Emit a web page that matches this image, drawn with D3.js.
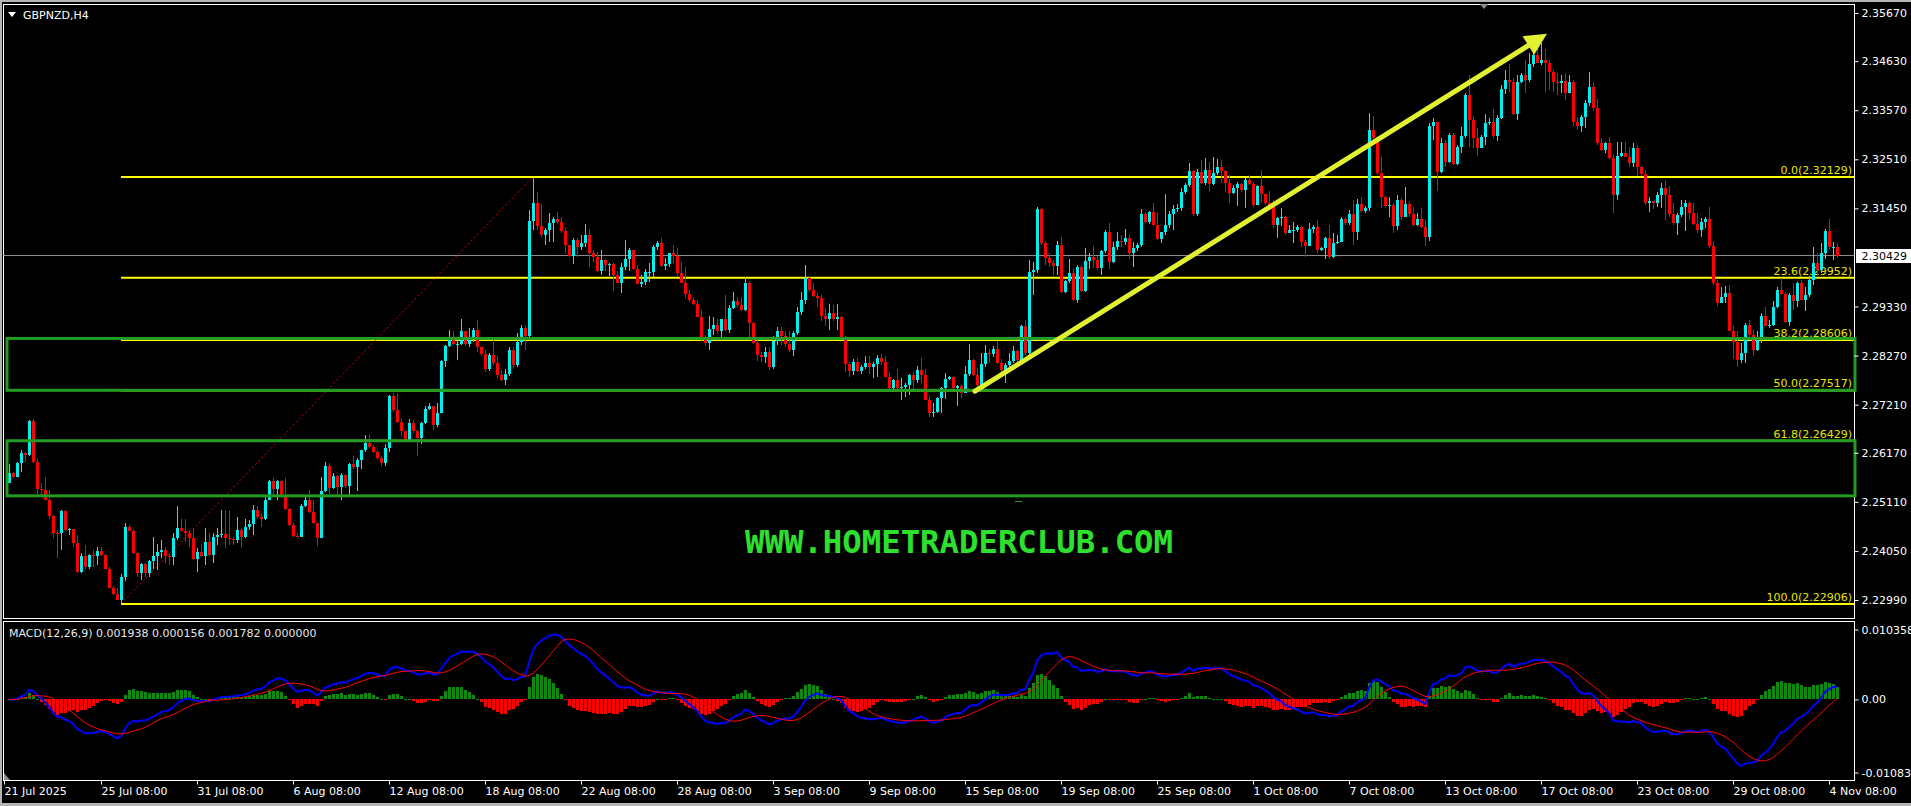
<!DOCTYPE html>
<html>
<head>
<meta charset="utf-8">
<script src="https://cdn.jsdelivr.net/npm/d3@7"></script>
<style>
  html, body { margin: 0; padding: 0; background: #b4b4b4; overflow: hidden; }
  svg { display: block; }
  text { font-family: "DejaVu Sans", sans-serif; font-size: 11px; }
</style>
</head>
<body>
<svg id="chart" width="1911" height="806"></svg>
<script>
// ---- data: GBPNZD H4, one entry per bar (21 Jul 2025 12:00 -> 4 Nov 2025 16:00)
const firstOpen = 2.2552;

const closes = [
2.2573,2.2565,2.2594,2.2616,2.2612,2.2686,2.2598,2.2538,2.2537,2.2516,
2.2480,2.2444,2.2443,2.2492,2.2450,2.2452,2.2423,2.2360,2.2394,2.2370,
2.2396,2.2393,2.2405,2.2396,2.2367,2.2326,2.2312,2.2300,2.2349,2.2457,
2.2449,2.2400,2.2358,2.2377,2.2358,2.2383,2.2393,2.2403,2.2407,2.2394,
2.2391,2.2432,2.2454,2.2449,2.2443,2.2432,2.2387,2.2403,2.2394,2.2425,
2.2396,2.2436,2.2439,2.2442,2.2432,2.2430,2.2429,2.2450,2.2436,2.2456,
2.2463,2.2493,2.2479,2.2473,2.2516,2.2556,2.2538,2.2555,2.2526,2.2495,
2.2461,2.2437,2.2436,2.2502,2.2516,2.2490,2.2465,2.2434,2.2535,2.2588,
2.2540,2.2567,2.2544,2.2569,2.2545,2.2593,2.2587,2.2601,2.2622,2.2639,
2.2629,2.2619,2.2605,2.2594,2.2627,2.2740,2.2709,2.2684,2.2663,2.2645,
2.2681,2.2663,2.2650,2.2681,2.2712,2.2717,2.2677,2.2704,2.2816,2.2848,
2.2864,2.2852,2.2852,2.2879,2.2852,2.2868,2.2882,2.2845,2.2830,2.2797,
2.2828,2.2810,2.2785,2.2774,2.2787,2.2840,2.2807,2.2857,2.2886,2.2869,
2.3118,2.3157,2.3107,2.3087,2.3098,2.3113,2.3121,2.3116,2.3097,2.3066,
2.3042,2.3077,2.3061,2.3071,2.3087,2.3049,2.3039,2.3010,2.3033,2.3023,
2.3024,2.3001,2.2984,2.3019,2.3035,2.3054,2.3015,2.2982,2.2987,2.3008,
2.3008,2.3062,2.3071,2.3020,2.3024,2.3048,2.3042,2.3006,2.2984,2.2961,
2.2946,2.2938,2.2911,2.2864,2.2855,2.2884,2.2893,2.2879,2.2905,2.2882,
2.2930,2.2945,2.2936,2.2925,2.2984,2.2897,2.2855,2.2828,2.2823,2.2835,
2.2803,2.2859,2.2879,2.2869,2.2852,2.2840,2.2875,2.2922,2.2948,2.2995,
2.2969,2.2956,2.2951,2.2912,2.2905,2.2920,2.2905,2.2911,2.2868,2.2809,
2.2794,2.2814,2.2794,2.2803,2.2810,2.2802,2.2809,2.2821,2.2814,2.2781,
2.2756,2.2774,2.2756,2.2760,2.2763,2.2785,2.2774,2.2796,2.2785,2.2731,
2.2702,2.2706,2.2735,2.2756,2.2776,2.2780,2.2756,2.2761,2.2747,2.2787,
2.2818,2.2785,2.2764,2.2809,2.2832,2.2831,2.2841,2.2812,2.2795,2.2807,
2.2816,2.2836,2.2818,2.2891,2.2832,2.3008,2.3011,2.3143,2.3070,2.3037,
2.3028,2.3021,2.3066,2.2965,2.2988,2.3006,2.2947,2.3019,2.2967,2.3032,
2.3041,2.3034,2.3016,2.3052,2.3095,2.3030,2.3062,2.3075,2.3073,2.3080,
2.3048,2.3060,2.3066,2.3133,2.3116,2.3138,2.3109,2.3078,2.3093,2.3109,
2.3133,2.3143,2.3145,2.3181,2.3196,2.3226,2.3132,2.3224,2.3199,2.3228,
2.3198,2.3221,2.3235,2.3226,2.3199,2.3179,2.3188,2.3198,2.3185,2.3206,
2.3198,2.3152,2.3193,2.3176,2.3156,2.3147,2.3109,2.3124,2.3126,2.3091,
2.3098,2.3098,2.3104,2.3073,2.3064,2.3100,2.3104,2.3055,2.3060,2.3080,
2.3039,2.3071,2.3073,2.3121,2.3113,2.3133,2.3095,2.3155,2.3140,2.3145,
2.3314,2.3296,2.3221,2.3169,2.3150,2.3152,2.3106,2.3163,2.3127,2.3155,
2.3133,2.3109,2.3121,2.3104,2.3083,2.3322,2.3332,2.3224,2.3287,2.3246,
2.3304,2.3241,2.3278,2.3301,2.3390,2.3336,2.3296,2.3275,2.3300,2.3330,
2.3332,2.3301,2.3341,2.3402,2.3422,2.3419,2.3349,2.3419,2.3433,2.3422,
2.3457,2.3476,2.3460,2.3466,2.3458,2.3440,2.3419,2.3415,2.3421,2.3395,
2.3419,2.3332,2.3322,2.3343,2.3372,2.3408,2.3361,2.3286,2.3270,2.3286,
2.3253,2.3174,2.3258,2.3264,2.3257,2.3242,2.3275,2.3235,2.3219,2.3156,
2.3160,2.3156,2.3174,2.3188,2.3174,2.3133,2.3113,2.3131,2.3147,2.3156,
2.3134,2.3111,2.3098,2.3116,2.3121,2.3064,2.2983,2.2940,2.2954,2.2963,
2.2881,2.2857,2.2818,2.2833,2.2893,2.2872,2.2839,2.2861,2.2913,2.2891,
2.2893,2.2933,2.2969,2.2960,2.2900,2.2958,2.2944,2.2983,2.2947,2.2958,
2.2990,2.3026,2.3011,2.3048,2.3097,2.3062,2.3062,2.3043
];

const highs = [
2.2593,2.2576,2.2598,2.2623,2.2619,2.2688,2.2689,2.2603,2.2551,2.2564,
2.2537,2.2483,2.2450,2.2493,2.2493,2.2454,2.2452,2.2439,2.2400,2.2418,
2.2398,2.2407,2.2414,2.2414,2.2398,2.2371,2.2329,2.2326,2.2355,2.2465,
2.2461,2.2452,2.2403,2.2380,2.2378,2.2385,2.2436,2.2421,2.2429,2.2414,
2.2398,2.2443,2.2501,2.2475,2.2475,2.2450,2.2454,2.2411,2.2421,2.2454,
2.2443,2.2443,2.2454,2.2493,2.2493,2.2492,2.2436,2.2478,2.2454,2.2475,
2.2472,2.2504,2.2501,2.2486,2.2526,2.2558,2.2562,2.2558,2.2558,2.2562,
2.2497,2.2465,2.2443,2.2506,2.2522,2.2537,2.2515,2.2466,2.2565,2.2598,
2.2594,2.2573,2.2569,2.2573,2.2571,2.2594,2.2609,2.2605,2.2623,2.2655,
2.2655,2.2634,2.2623,2.2609,2.2637,2.2742,2.2747,2.2747,2.2689,2.2663,
2.2691,2.2688,2.2666,2.2684,2.2717,2.2724,2.2715,2.2724,2.2817,2.2850,
2.2882,2.2879,2.2861,2.2907,2.2879,2.2886,2.2886,2.2904,2.2846,2.2840,
2.2832,2.2861,2.2825,2.2796,2.2797,2.2846,2.2846,2.2875,2.2893,2.2893,
2.3141,2.32129,2.3181,2.3154,2.3102,2.3134,2.3127,2.3138,2.3127,2.3102,
2.3066,2.3080,2.3082,2.3087,2.3111,2.3100,2.3056,2.3051,2.3056,2.3035,
2.3028,2.3028,2.3010,2.3026,2.3077,2.3059,2.3055,2.3023,2.3001,2.3015,
2.3026,2.3066,2.3075,2.3082,2.3037,2.3049,2.3066,2.3059,2.3030,2.3019,
2.2969,2.2954,2.2947,2.2925,2.2871,2.2912,2.2910,2.2907,2.2907,2.2958,
2.2936,2.2965,2.2954,2.2954,2.2996,2.2989,2.2900,2.2868,2.2835,2.2846,
2.2846,2.2869,2.2889,2.2889,2.2879,2.2879,2.2879,2.2931,2.2965,2.3023,
2.2999,2.2983,2.2963,2.2958,2.2929,2.2938,2.2936,2.2938,2.2912,2.2869,
2.2814,2.2819,2.2821,2.2807,2.2826,2.2826,2.2814,2.2828,2.2830,2.2826,
2.2792,2.2776,2.2797,2.2778,2.2767,2.2787,2.2792,2.2804,2.2821,2.2797,
2.2740,2.2725,2.2738,2.2760,2.2789,2.2782,2.2782,2.2764,2.2764,2.2805,
2.2851,2.2819,2.2800,2.2832,2.2850,2.2841,2.2848,2.2859,2.2819,2.2812,
2.2832,2.2848,2.2839,2.2893,2.2904,2.3034,2.3030,2.3147,2.3145,2.3075,
2.3049,2.3034,2.3075,2.3083,2.2990,2.3035,2.3013,2.3023,2.3023,2.3059,
2.3048,2.3064,2.3042,2.3054,2.3098,2.3113,2.3073,2.3093,2.3088,2.3100,
2.3088,2.3073,2.3070,2.3143,2.3138,2.3140,2.3156,2.3136,2.3095,2.3176,
2.3140,2.3152,2.3155,2.3188,2.3199,2.3242,2.3228,2.3229,2.3250,2.3253,
2.3246,2.3255,2.3251,2.3250,2.3228,2.3217,2.3196,2.3203,2.3199,2.3210,
2.3217,2.3203,2.3196,2.3227,2.3174,2.3183,2.3163,2.3126,2.3145,2.3129,
2.3109,2.3116,2.3109,2.3106,2.3077,2.3113,2.3109,2.3120,2.3062,2.3084,
2.3109,2.3091,2.3088,2.3127,2.3126,2.3142,2.3163,2.3165,2.3169,2.3150,
2.3350,2.3345,2.3300,2.3257,2.3172,2.3170,2.3156,2.3174,2.3167,2.3192,
2.3160,2.3149,2.3134,2.3145,2.3120,2.3329,2.3340,2.3329,2.3296,2.3293,
2.3307,2.3307,2.3282,2.3320,2.3394,2.3433,2.3345,2.3318,2.3304,2.3349,
2.3340,2.3359,2.3347,2.3412,2.3444,2.3457,2.3426,2.3433,2.3437,2.3466,
2.3480,2.3487,2.3498,2.3503,2.3489,2.3466,2.3444,2.3437,2.3433,2.3437,
2.3433,2.3422,2.3343,2.3347,2.3379,2.3440,2.3419,2.3381,2.3296,2.3289,
2.3299,2.3260,2.3289,2.3289,2.3289,2.3278,2.3287,2.3282,2.3237,2.3228,
2.3170,2.3160,2.3181,2.3199,2.3206,2.3193,2.3156,2.3134,2.3163,2.3163,
2.3160,2.3157,2.3134,2.3124,2.3127,2.3149,2.3075,2.2990,2.2976,2.2977,
2.2980,2.2890,2.2879,2.2854,2.2897,2.2904,2.2882,2.2879,2.2918,2.2933,
2.2904,2.2944,2.2976,2.2994,2.2965,2.2963,2.2983,2.2987,2.2990,2.2976,
2.2998,2.3062,2.3048,2.3070,2.3100,2.3121,2.3073,2.3071
];

const lows = [
2.2551,2.2562,2.2564,2.2576,2.2598,2.2610,2.2594,2.2526,2.2526,2.2515,
2.2475,2.2432,2.2389,2.2407,2.2447,2.2439,2.2414,2.2358,2.2358,2.2367,
2.2367,2.2371,2.2375,2.2393,2.2365,2.2324,2.2310,2.2299,2.22906,2.2341,
2.2447,2.2398,2.2349,2.2342,2.2349,2.2349,2.2367,2.2364,2.2389,2.2378,
2.2375,2.2375,2.2429,2.2447,2.2425,2.2414,2.2385,2.2360,2.2391,2.2375,
2.2394,2.2378,2.2418,2.2432,2.2411,2.2418,2.2418,2.2423,2.2411,2.2434,
2.2450,2.2439,2.2475,2.2457,2.2472,2.2515,2.2529,2.2515,2.2522,2.2493,
2.2459,2.2436,2.2432,2.2437,2.2499,2.2486,2.2463,2.2416,2.2432,2.2533,
2.2529,2.2538,2.2526,2.2515,2.2542,2.2526,2.2583,2.2535,2.2581,2.2619,
2.2627,2.2616,2.2601,2.2588,2.2588,2.2619,2.2706,2.2682,2.2653,2.2643,
2.2645,2.2660,2.2609,2.2637,2.2679,2.2709,2.2666,2.2673,2.2702,2.2803,
2.2845,2.2850,2.2817,2.2850,2.2848,2.2846,2.2857,2.2835,2.2826,2.2792,
2.2794,2.2807,2.2778,2.2773,2.2763,2.2783,2.2799,2.2803,2.2850,2.2839,
2.2868,2.3098,2.3098,2.3082,2.3066,2.3073,2.3073,2.3111,2.3092,2.3046,
2.3039,2.3025,2.3039,2.3056,2.3062,2.3019,2.3030,2.3008,2.3001,2.3010,
2.2999,2.2967,2.2983,2.2963,2.3012,2.3010,2.3012,2.2981,2.2976,2.2979,
2.2987,2.2997,2.3055,2.3018,2.3012,2.3019,2.3026,2.2999,2.2983,2.2951,
2.2943,2.2936,2.2910,2.2857,2.2848,2.2838,2.2871,2.2874,2.2866,2.2879,
2.2875,2.2927,2.2933,2.2924,2.2924,2.2868,2.2852,2.2816,2.2814,2.2810,
2.2796,2.2799,2.2850,2.2850,2.2846,2.2835,2.2826,2.2871,2.2915,2.2938,
2.2965,2.2954,2.2933,2.2902,2.2891,2.2882,2.2902,2.2882,2.2866,2.2792,
2.2781,2.2785,2.2792,2.2787,2.2799,2.2787,2.2778,2.2780,2.2807,2.2780,
2.2754,2.2749,2.2754,2.2730,2.2738,2.2742,2.2754,2.2767,2.2767,2.2730,
2.2694,2.2695,2.2702,2.2702,2.2733,2.2774,2.2754,2.2717,2.2735,2.2746,
2.2783,2.2782,2.2760,2.2761,2.2803,2.2810,2.2823,2.2809,2.2782,2.2767,
2.2800,2.2810,2.2814,2.2816,2.2828,2.2828,2.2958,2.3005,2.3066,2.3023,
2.3019,2.3001,2.3001,2.2962,2.2963,2.2983,2.2944,2.2941,2.2965,2.2965,
2.3013,2.3016,2.3012,2.3001,2.3048,2.3013,2.3026,2.3054,2.3062,2.3066,
2.3035,2.3019,2.3052,2.3062,2.3114,2.3111,2.3107,2.3077,2.3071,2.3088,
2.3102,2.3098,2.3138,2.3140,2.3176,2.3192,2.3129,2.3129,2.3198,2.3196,
2.3181,2.3196,2.3217,2.3199,2.3181,2.3157,2.3176,2.3150,2.3181,2.3145,
2.3196,2.3147,2.3152,2.3156,2.3152,2.3145,2.3102,2.3080,2.3106,2.3088,
2.3091,2.3070,2.3093,2.3062,2.3039,2.3064,2.3091,2.3049,2.3052,2.3035,
2.3035,2.3037,2.3068,2.3084,2.3109,2.3109,2.3066,2.3077,2.3138,2.3134,
2.3140,2.3293,2.3217,2.3145,2.3145,2.3127,2.3091,2.3098,2.3120,2.3127,
2.3127,2.3107,2.3106,2.3102,2.3064,2.3075,2.3293,2.3183,2.3221,2.3235,
2.3242,2.3239,2.3239,2.3264,2.3296,2.3278,2.3275,2.3258,2.3278,2.3282,
2.3325,2.3296,2.3291,2.3337,2.3392,2.3397,2.3347,2.3336,2.3415,2.3395,
2.3419,2.3451,2.3458,2.3455,2.3397,2.3401,2.3397,2.3390,2.3394,2.3378,
2.3394,2.3322,2.3314,2.3309,2.3318,2.3366,2.3356,2.3282,2.3268,2.3264,
2.3251,2.3136,2.3163,2.3255,2.3255,2.3235,2.3235,2.3215,2.3215,2.3152,
2.3138,2.3143,2.3149,2.3145,2.3120,2.3127,2.3109,2.3088,2.3127,2.3097,
2.3120,2.3109,2.3091,2.3084,2.3102,2.3059,2.2980,2.2934,2.2940,2.2940,
2.2879,2.2819,2.2802,2.2812,2.2810,2.2861,2.2826,2.2836,2.2854,2.2890,
2.2886,2.2890,2.2929,2.2958,2.2898,2.2891,2.2926,2.2931,2.2946,2.2924,
2.2953,2.2980,2.2998,2.3005,2.3035,2.3055,2.3034,2.3037
];

// axis labels
const priceTicks = [2.35670, 2.34630, 2.33570, 2.32510, 2.31450, 2.29330, 2.28270, 2.27210, 2.26170, 2.25110, 2.24050, 2.22990];
const bidPrice = 2.30429;
const dateLabels = ["21 Jul 2025", "25 Jul 08:00", "31 Jul 08:00", "6 Aug 08:00", "12 Aug 08:00", "18 Aug 08:00",
  "22 Aug 08:00", "28 Aug 08:00", "3 Sep 08:00", "9 Sep 08:00", "15 Sep 08:00", "19 Sep 08:00", "25 Sep 08:00",
  "1 Oct 08:00", "7 Oct 08:00", "13 Oct 08:00", "17 Oct 08:00", "23 Oct 08:00", "29 Oct 08:00", "4 Nov 08:00"];
const dateBars = [-1.25, 23, 47, 71, 95, 119, 143, 167, 191, 215, 239, 263, 287, 311, 335, 359, 383, 407, 431, 455];
const macdTicks = [0.010358, 0, -0.010836];
const macdTickLabels = ["0.010358", "0.00", "-0.010836"];
const macdTitle = "MACD(12,26,9) 0.001938 0.000156 0.001782 0.000000";

// fibonacci retracement
const fibLevels = ["0.0", "23.6", "38.2", "50.0", "61.8", "100.0"];
const fibPrices = [2.32129, 2.29952, 2.28606, 2.27517, 2.26429, 2.22906];
const fibFromBar = 28, fibToBar = 131;

// support zones (bar index range, price range)
const zoneBars = [[-0.5, 461.5], [-0.5, 461.5]];
const zonePrices = [[2.2752, 2.2864], [2.2524, 2.2643]];

// trend arrow
const arrowBars = [241.5, 384.5];
const arrowPrices = [2.2750, 2.3522];

// ---- layout
const svg = d3.select("#chart");
const W = 1911, H = 806;
const left = 3.5, right = 1854.5, mainTop = 4.5, mainBottom = 618.5, macdTop = 621.5, macdBottom = 780.5;

const x = d3.scaleLinear().domain([0, closes.length - 1]).range([9, 9 + 4 * (closes.length - 1)]);
const y = d3.scaleLinear().domain([2.2299, 2.3567]).range([600, 13]);
const my = d3.scaleLinear().domain([-0.010836, 0.010358]).range([772.5, 629.5]);

svg.append("rect").attr("x", 2).attr("y", 2).attr("width", W - 2).attr("height", 801).attr("fill", "#000");

// panel frames
svg.append("rect").attr("x", left).attr("y", mainTop).attr("width", right - left).attr("height", mainBottom - mainTop)
  .attr("fill", "none").attr("stroke", "#fff");
svg.append("rect").attr("x", left).attr("y", macdTop).attr("width", right - left).attr("height", macdBottom - macdTop)
  .attr("fill", "none").attr("stroke", "#fff");

// title
svg.append("path").attr("d", "M8,12 L16,12 L12,17 Z").attr("fill", "#fff");
svg.append("text").attr("x", 23).attr("y", 19).attr("fill", "#fff").text("GBPNZD,H4");
svg.append("path").attr("d", "M1480,4 L1488,4 L1484,9 Z").attr("fill", "#8c8c8c");

// watermark
svg.append("text").attr("x", 745).attr("y", 553)
  .attr("textLength", 428).attr("lengthAdjust", "spacingAndGlyphs")
  .style("font-family", "'DejaVu Sans Mono', monospace").style("font-size", "32px").style("font-weight", "bold")
  .attr("fill", "#2ee02e").text("WWW.HOMETRADERCLUB.COM");
svg.append("line").attr("x1", 1015).attr("x2", 1022).attr("y1", 501.5).attr("y2", 501.5).attr("stroke", "#2a9a2a");

// fib level lines and labels
const fibX0 = x(fibFromBar);
fibPrices.forEach((p, k) => {
  svg.append("line").attr("x1", fibX0).attr("x2", right).attr("y1", y(p)).attr("y2", y(p))
    .attr("stroke", "#ffff00").attr("stroke-width", 2);
  svg.append("text").attr("x", 1852).attr("y", y(p) - 3).attr("text-anchor", "end")
    .attr("fill", "#e6e600").text(fibLevels[k] + "(" + p.toFixed(5) + ")");
});

// bid line
svg.append("line").attr("x1", left).attr("x2", right).attr("y1", Math.round(y(bidPrice)) - 0.5).attr("y2", Math.round(y(bidPrice)) - 0.5)
  .attr("stroke", "#8c8c8c");

// fib trend line
svg.append("line")
  .attr("x1", x(fibFromBar)).attr("y1", y(fibPrices[5]))
  .attr("x2", x(fibToBar)).attr("y2", y(fibPrices[0]))
  .attr("stroke", "#e00000").attr("stroke-width", 1).attr("stroke-dasharray", "2,2.5");

// candles
const bars = closes.map((c, i) => ({
  i: i, o: i ? closes[i - 1] : firstOpen, h: highs[i], l: lows[i], c: c
}));
const gc = svg.append("g").attr("shape-rendering", "crispEdges");
gc.selectAll(".wick").data(bars).enter().append("line")
  .attr("x1", d => x(d.i) + 0.5).attr("x2", d => x(d.i) + 0.5)
  .attr("y1", d => y(Math.max(d.h, d.o, d.c))).attr("y2", d => y(Math.min(d.l, d.o, d.c)))
  .attr("stroke", d => d.c >= d.o ? "#00f0f0" : "#ff0000");
gc.selectAll(".body").data(bars).enter().append("rect")
  .attr("x", d => x(d.i) - 1).attr("width", 3)
  .attr("y", d => y(Math.max(d.o, d.c)))
  .attr("height", d => Math.max(1, y(Math.min(d.o, d.c)) - y(Math.max(d.o, d.c))))
  .attr("fill", d => d.c >= d.o ? "#00f0f0" : "#ff0000");

// zones
zonePrices.forEach((z, k) => {
  svg.append("rect")
    .attr("x", x(zoneBars[k][0])).attr("width", x(zoneBars[k][1]) - x(zoneBars[k][0]))
    .attr("y", y(z[1])).attr("height", y(z[0]) - y(z[1]))
    .attr("fill", "none").attr("stroke", "#229c22").attr("stroke-width", 3);
});

// arrow
const ax0 = x(arrowBars[0]), ay0 = y(arrowPrices[0]), ax1 = x(arrowBars[1]), ay1 = y(arrowPrices[1]);
const len = Math.hypot(ax1 - ax0, ay1 - ay0), ux = (ax1 - ax0) / len, uy = (ay1 - ay0) / len;
const bx = ax1 - ux * 22, by = ay1 - uy * 22;
svg.append("line").attr("x1", ax0).attr("y1", ay0).attr("x2", bx + ux * 2).attr("y2", by + uy * 2)
  .attr("stroke", "#e2f032").attr("stroke-width", 5).attr("stroke-linecap", "round");
svg.append("path")
  .attr("d", `M${ax1},${ay1} L${bx - uy * 11},${by + ux * 11} L${bx + uy * 11},${by - ux * 11} Z`)
  .attr("fill", "#e2f032");

// price axis
const pAxis = svg.append("g").attr("transform", `translate(${right},0)`)
  .call(d3.axisRight(y).tickValues(priceTicks).tickSize(4).tickFormat(d3.format(".5f")));
pAxis.select(".domain").remove();
pAxis.selectAll("line").attr("stroke", "#fff");
pAxis.selectAll("text").attr("fill", "#fff").style("font-family", "'DejaVu Sans', sans-serif").style("font-size", "11px");

svg.append("rect").attr("x", 1856).attr("y", 249).attr("width", 55).attr("height", 14).attr("fill", "#fff");
svg.append("text").attr("x", 1861.5).attr("y", y(bidPrice) + 4).attr("fill", "#000").text(bidPrice.toFixed(5));

// ---- MACD (12,26,9) from closes
function ema(vals, n) {
  const k = 2 / (n + 1);
  let e = vals[0];
  return vals.map(v => (e = e + k * (v - e)));
}
const ema12 = ema(closes, 12), ema26 = ema(closes, 26);
const macd = closes.map((c, i) => ema12[i] - ema26[i]);
const signal = macd.map((m, i) => d3.mean(macd.slice(Math.max(0, i - 8), i + 1)));
const hist = macd.map((m, i) => m - signal[i]);

svg.append("clipPath").attr("id", "mclip").append("rect")
  .attr("x", left + 0.5).attr("y", macdTop + 0.5).attr("width", right - left - 1).attr("height", macdBottom - macdTop - 1);
const gm = svg.append("g").attr("clip-path", "url(#mclip)");
gm.append("g").attr("shape-rendering", "crispEdges").selectAll("rect").data(hist).enter().append("rect")
  .attr("x", (d, i) => x(i) - 1).attr("width", 3)
  .attr("y", d => Math.round(my(Math.max(0, d))))
  .attr("height", d => Math.max(1, Math.abs(Math.round(my(d)) - Math.round(my(0)))))
  .attr("fill", d => d >= 0 ? "#0d8a0d" : "#ff0000");
gm.append("path").datum(macd)
  .attr("d", d3.line().x((d, i) => x(i)).y(d => my(d)))
  .attr("fill", "none").attr("stroke", "#0000ff").attr("stroke-width", 2);
gm.append("path").datum(signal)
  .attr("d", d3.line().x((d, i) => x(i)).y(d => my(d)))
  .attr("fill", "none").attr("stroke", "#ff0000").attr("stroke-width", 1);

svg.append("text").attr("x", 9).attr("y", 637).attr("fill", "#e8e8e8").text(macdTitle);
svg.append("path").attr("d", "M4,773 L4,780 L10,780 Z").attr("fill", "#8c8c8c");

const mAxis = svg.append("g").attr("transform", `translate(${right},0)`)
  .call(d3.axisRight(my).tickValues(macdTicks).tickSize(4).tickFormat((d, k) => macdTickLabels[k]));
mAxis.select(".domain").remove();
mAxis.selectAll("line").attr("stroke", "#fff");
mAxis.selectAll("text").attr("fill", "#fff").style("font-family", "'DejaVu Sans', sans-serif").style("font-size", "11px");

// date axis
const dAxis = svg.append("g").attr("transform", `translate(0,${macdBottom})`)
  .call(d3.axisBottom(x).tickValues(dateBars).tickSize(4).tickFormat((d, k) => dateLabels[k]));
dAxis.select(".domain").remove();
dAxis.selectAll("line").attr("stroke", "#fff");
dAxis.selectAll("text").attr("fill", "#fff").attr("text-anchor", "start")
  .style("font-family", "'DejaVu Sans', sans-serif").style("font-size", "11px");
</script>
</body>
</html>
